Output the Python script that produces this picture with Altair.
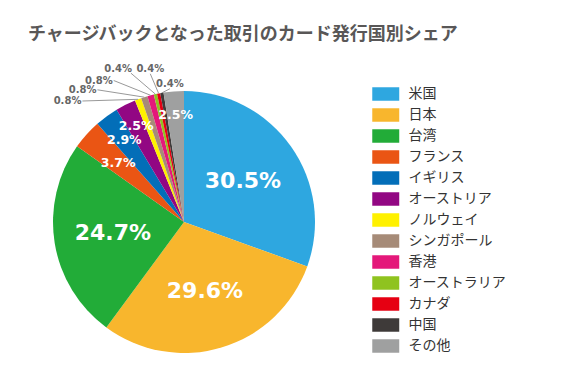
import math
import altair as alt
import pandas as pd

# ---- data ----
countries = ["米国", "日本", "台湾", "フランス", "イギリス", "オーストリア", "ノルウェイ",
             "シンガポール", "香港", "オーストラリア", "カナダ", "中国", "その他"]
shares = [30.5, 29.6, 24.7, 3.7, 2.9, 2.5, 0.8, 0.8, 0.8, 0.4, 0.4, 0.4, 2.5]
colors = ["#2EA7E0", "#F8B62D", "#22AC38", "#EA5514", "#036EB8", "#920783", "#FFF100",
          "#A68B78", "#E4187A", "#8FC31F", "#E60012", "#3E3A39", "#9FA0A0"]

title_text = "チャージバックとなった取引のカード発行国別シェア"

# ---- layout constants ----
W = 290
R = 131
FONT_NUM = "DejaVu Sans, Noto Sans CJK JP, sans-serif"
FONT_JP = "Noto Sans CJK JP, DejaVu Sans, sans-serif"

slices = pd.DataFrame({"country": countries, "share": shares, "idx": list(range(len(countries)))})

# label geometry derived from the data (angles measured clockwise from 12 o'clock)
total = sum(shares)
rows_in, rows_out, rules = [], [], []
cum = 0.0
out_rank = 0
first_out_mid = None
for c, v in zip(countries, shares):
    mid = (cum + v / 2) / total * 360.0
    cum += v
    lab = f"{v}%"
    if v >= 10:
        r = 0.55 * R
        a = math.radians(mid)
        rows_in.append({"x": r * math.sin(a), "y": r * math.cos(a), "label": lab, "size": 22})
    elif v >= 1:
        r = R * (1.12 - 0.12 * v)
        a = math.radians(mid)
        rows_in.append({"x": r * math.sin(a), "y": r * math.cos(a), "label": lab, "size": 12.5})
    else:
        if first_out_mid is None:
            first_out_mid = mid
        j = out_rank
        out_rank += 1
        ang = first_out_mid - 19.5 + 6.8 * j
        re = R + 27 - 6 * max(0, j - 3) ** 2
        a0 = math.radians(mid)
        a1 = math.radians(ang)
        ex, ey = re * math.sin(a1), re * math.cos(a1)
        rules.append({"x": R * math.sin(a0), "y": R * math.cos(a0), "x2": ex, "y2": ey})
        if ang < 335:
            grp = "rm"
        elif ang < 345:
            grp = "rb"
        else:
            grp = "cb"
        rows_out.append({"x": ex, "y": ey, "label": lab, "grp": grp})

df_in = pd.DataFrame(rows_in)
df_out = pd.DataFrame(rows_out)
df_rules = pd.DataFrame(rules)

xs = alt.Scale(domain=[-W / 2, W / 2], nice=False, zero=False)
ys = alt.Scale(domain=[-W / 2, W / 2], nice=False, zero=False)

pie = alt.Chart(slices).mark_arc(outerRadius=R).encode(
    theta=alt.Theta("share:Q", stack=True),
    color=alt.Color(
        "country:N",
        scale=alt.Scale(domain=countries, range=colors),
        legend=alt.Legend(
            title=None, orient="none", legendX=339.75, legendY=10,
            symbolType="M-2,-1H2V1H-2Z", symbolSize=182, symbolStrokeWidth=0,
            symbolOpacity=1, labelFontSize=14, labelColor="#333333", labelFont=FONT_JP,
            rowPadding=7, labelOffset=15.75, padding=0,
        ),
    ),
    order=alt.Order("idx:Q"),
)

inner = alt.Chart(df_in).mark_text(
    color="white", fontWeight="bold", font=FONT_NUM, align="center", baseline="middle"
).encode(
    x=alt.X("x:Q", scale=xs, axis=None),
    y=alt.Y("y:Q", scale=ys, axis=None),
    text="label:N",
    size=alt.Size("size:Q", scale=None, legend=None),
)

leaders = alt.Chart(df_rules).mark_rule(color="#999999", strokeWidth=1).encode(
    x=alt.X("x:Q", scale=xs, axis=None),
    y=alt.Y("y:Q", scale=ys, axis=None),
    x2="x2:Q",
    y2="y2:Q",
)

def out_layer(grp, align, baseline, dx, dy):
    return alt.Chart(df_out).transform_filter(alt.datum.grp == grp).mark_text(
        color="#666666", fontWeight="bold", font=FONT_NUM, fontSize=10,
        align=align, baseline=baseline, dx=dx, dy=dy,
    ).encode(
        x=alt.X("x:Q", scale=xs, axis=None),
        y=alt.Y("y:Q", scale=ys, axis=None),
        text="label:N",
    )

chart = alt.layer(
    pie, inner, leaders,
    out_layer("rm", "right", "middle", -1, 0),
    out_layer("rb", "right", "bottom", 1, 1),
    out_layer("cb", "center", "bottom", 0, 0),
).properties(
    width=W, height=W,
    background="white",
    autosize=alt.AutoSizeParams(type="none"),
    padding={"left": 31, "top": 69, "right": 246, "bottom": 0},
    title=alt.TitleParams(
        title_text, anchor="start", fontSize=18, fontWeight="bold",
        color="#595757", font=FONT_JP, dx=-11, offset=20,
    ),
).configure_view(strokeWidth=0, stroke="transparent")

chart.save("out.html", embed_options={"renderer": "svg", "actions": False})
